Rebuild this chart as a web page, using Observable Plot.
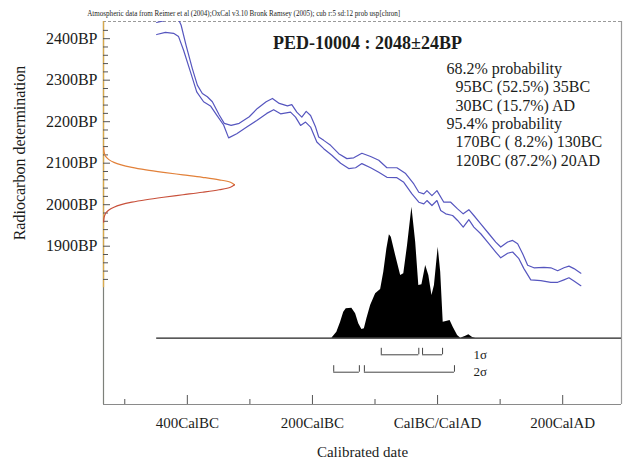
<!DOCTYPE html>
<html><head><meta charset="utf-8">
<script src="https://cdn.jsdelivr.net/npm/d3@7"></script>
<script src="https://cdn.jsdelivr.net/npm/@observablehq/plot@0.6"></script>
<style>html,body{margin:0;padding:0;background:#fff;} #chart svg{display:block} #chart svg text{font-family:'Liberation Serif','Times New Roman',serif;}</style>
</head><body><div id="chart"></div>
<script>
// ---------- text ----------
const headerText = "Atmospheric data from Reimer et al (2004);OxCal v3.10 Bronk Ramsey (2005); cub r:5 sd:12 prob usp[chron]";
const titleText = "PED-10004 : 2048±24BP";
const rangeLines = ["68.2% probability", "95BC (52.5%) 35BC", "30BC (15.7%) AD", "95.4% probability", "170BC ( 8.2%) 130BC", "120BC (87.2%) 20AD"];
const rangeIndent = [false, true, true, false, true, true];
const xTitle = "Calibrated date";
const yTitle = "Radiocarbon determination";
const sigmaLabels = ["1σ", "2σ"];

// ---------- axes ----------
const xDomain = [-534, 294];
const yDomain = [1518.6, 2441.4];
const xTickValues = [-400, -200, 0, 200];
const xTickLabels = ["400CalBC", "200CalBC", "CalBC/CalAD", "200CalAD"];
const xMinorTicks = [-500, -300, -100, 100];
const yTickValues = [2400, 2300, 2200, 2100, 2000, 1900];
const yTickLabels = ["2400BP", "2300BP", "2200BP", "2100BP", "2000BP", "1900BP"];
const yMinorTicks = [2420, 2380, 2360, 2340, 2320, 2280, 2260, 2240, 2220, 2180, 2160, 2140, 2120, 2080, 2060, 2040, 2020, 1980, 1960, 1940, 1920, 1880, 1860, 1840, 1820];

// ---------- radiocarbon measurement (2048±24BP), relative density ----------
const gaussBP = [1958, 1964, 1970, 1976, 1982, 1988, 1994, 2000, 2006, 2012, 2018, 2024, 2030, 2036, 2042, 2048, 2054, 2060, 2066, 2072, 2078, 2084, 2090, 2096, 2102, 2108, 2114, 2120, 2126, 2132, 2138];
const gaussDensity = [0.0009, 0.0022, 0.0051, 0.0111, 0.0228, 0.0439, 0.0796, 0.1353, 0.2163, 0.3247, 0.4578, 0.6065, 0.7548, 0.8825, 0.969, 1, 0.969, 0.8825, 0.7548, 0.6065, 0.4578, 0.3247, 0.2163, 0.1353, 0.0796, 0.0439, 0.0228, 0.0111, 0.0051, 0.0022, 0.0009];

// ---------- calibration curve (±1σ band edges) ----------
const calUpperYear = [-449, -435, -424, -414, -410, -402, -392, -384, -376, -368, -360, -349, -341, -330, -317, -301, -288, -274, -264, -253, -240, -233, -225, -217, -210, -203, -195, -190, -182, -171, -158, -145, -134, -121, -107, -94, -81, -65, -51, -38, -30, -22, -17, -9, -1, 10, 21, 32, 41, 50, 58, 69, 82, 93, 101, 112, 120, 128, 136, 144, 154, 170, 181, 192, 202, 210, 218, 229];
const calUpperBP = [2439, 2444, 2449, 2446, 2433, 2384, 2328, 2288, 2268, 2260, 2248, 2216, 2196, 2191, 2196, 2212, 2232, 2248, 2256, 2244, 2238, 2241, 2223, 2211, 2225, 2215, 2187, 2163, 2155, 2143, 2123, 2111, 2113, 2124, 2116, 2107, 2089, 2089, 2075, 2050, 2030, 2026, 2034, 2022, 2034, 2006, 2006, 1990, 1978, 1988, 1974, 1954, 1930, 1910, 1898, 1910, 1914, 1906, 1882, 1854, 1848, 1849, 1848, 1841, 1848, 1852, 1846, 1835];
const calLowerYear = [-449, -435, -422, -414, -406, -395, -385, -374, -363, -353, -342, -334, -321, -305, -289, -273, -262, -251, -235, -227, -219, -211, -203, -193, -182, -169, -155, -142, -131, -121, -107, -94, -81, -65, -54, -41, -30, -22, -17, -9, -1, 5, 13, 24, 32, 41, 50, 58, 69, 82, 93, 101, 112, 120, 130, 138, 149, 165, 181, 192, 202, 210, 218, 229];
const calLowerBP = [2410, 2415, 2413, 2405, 2372, 2320, 2272, 2248, 2238, 2216, 2192, 2161, 2171, 2187, 2203, 2220, 2229, 2219, 2223, 2211, 2191, 2199, 2187, 2151, 2135, 2119, 2100, 2087, 2089, 2099, 2089, 2078, 2066, 2065, 2054, 2026, 2006, 2002, 2010, 1998, 2010, 1986, 1978, 1974, 1962, 1946, 1964, 1946, 1930, 1906, 1886, 1872, 1883, 1886, 1870, 1846, 1819, 1817, 1813, 1813, 1819, 1824, 1816, 1805];

// ---------- calibrated (posterior) distribution, relative probability ----------
const postStart = -449;
const postYear = [-169, -161, -155, -150, -146, -137, -131, -126, -121, -117, -113, -107, -99, -91, -86, -81, -77, -74, -67, -59, -54, -48, -41, -35, -30, -25, -19, -14, -9, -5, 1, 5, 9, 14, 20, 25, 32, 37, 45, 50, 56, 61];
const postProb = [0, 0.046, 0.122, 0.198, 0.224, 0.229, 0.186, 0.110, 0.066, 0.072, 0.148, 0.250, 0.339, 0.372, 0.504, 0.682, 0.789, 0.771, 0.631, 0.479, 0.492, 0.708, 1.0, 0.733, 0.402, 0.408, 0.555, 0.479, 0.326, 0.402, 0.695, 0.504, 0.122, 0.127, 0.135, 0.084, 0.021, 0, 0.015, 0.026, 0.005, 0];

// ---------- ranges (brackets) ----------
const sigma1Ranges = [[-90, -30], [-24, 8]];
const sigma2Ranges = [[-166, -125], [-117, 27]];

// ---------- layout (pixels) ----------
const W = 629, H = 462, mL = 103, mR = 8, mT = 21, mB = 58;
const frameW = W - mL - mR, frameH = H - mT - mB;
const xs = d3.scaleLinear(xDomain, [mL, W - mR]);
const ys = d3.scaleLinear(yDomain, [H - mB, mT]);
const postBase = ys.invert(337.7);
const postScale = ys.invert(337.7 - 131) - postBase;
const gaussScale = xs.invert(mL + 131) - xDomain[0];
const row1 = ys.invert(354.3), row1Top = ys.invert(347.8);
const row2 = ys.invert(371.7), row2Top = ys.invert(365.2);

const font = "'Liberation Serif', 'Times New Roman', serif";
const ink = "#1b1d1b";
const blue = "#5656bf";

const gauss = gaussBP.map((b, i) => ({bp: b, d: gaussDensity[i]}));
const gaussUp = gauss.filter(g => g.bp >= 2048);
const gaussLo = gauss.filter(g => g.bp <= 2048);
const upper = calUpperYear.map((x, i) => ({x, y: calUpperBP[i]}));
const lower = calLowerYear.map((x, i) => ({x, y: calLowerBP[i]}));
const post = [{x: postStart, p: 0}, ...postYear.map((x, i) => ({x, p: postProb[i]}))];

function bracketMarks(ranges, row, top) {
  const ends = ranges.flatMap(r => r);
  return [
    Plot.ruleY(ranges, {y: () => row, x1: r => r[0], x2: r => r[1], stroke: "#444", strokeWidth: 1}),
    Plot.ruleX(ends, {x: d => d, y1: row, y2: top, stroke: "#444", strokeWidth: 1})
  ];
}

const textBase = {fontFamily: font, fill: ink, frameAnchor: "top-left", textAnchor: "start", lineAnchor: "middle"};

const plot = Plot.plot({
  width: W, height: H,
  marginLeft: mL, marginRight: mR, marginTop: mT, marginBottom: mB,
  x: {domain: xDomain, label: null},
  y: {domain: yDomain, label: null},
  style: {fontFamily: font, color: ink, background: "#fff"},
  marks: [
    // frame
    Plot.ruleY([yDomain[0]], {stroke: "#8a8a8a", strokeWidth: 1.2}),
    Plot.ruleY([yDomain[1]], {stroke: "#9a9a9a", strokeWidth: 1.2, strokeDasharray: "3,2"}),
    Plot.ruleX([xDomain[0]], {stroke: "#7d807a", strokeWidth: 1.2}),
    Plot.ruleX([xDomain[1]], {stroke: "#9a9a9a", strokeWidth: 1.2}),
    Plot.ruleX([xDomain[0]], {y1: 1800, y2: yDomain[1], stroke: "#d8a94c", strokeWidth: 1.3}),
    // ticks (inward)
    Plot.tickY(yTickValues, {y: d => d, insetRight: frameW - 7, stroke: "#555"}),
    Plot.tickY(yMinorTicks, {y: d => d, insetRight: frameW - 5, stroke: "#555"}),
    Plot.tickX(xTickValues, {x: d => d, insetTop: frameH - 9, stroke: "#555"}),
    Plot.tickX(xMinorTicks, {x: d => d, insetTop: frameH - 5, stroke: "#555"}),
    // tick labels
    Plot.axisY(yTickValues, {anchor: "left", tickSize: 0, tickPadding: 6, fontSize: 16, fontFamily: font, label: null,
      tickFormat: d => yTickLabels[yTickValues.indexOf(d)]}),
    Plot.axisX(xTickValues, {anchor: "bottom", tickSize: 0, tickPadding: 13, fontSize: 15, fontFamily: font, label: null,
      tickFormat: d => xTickLabels[xTickValues.indexOf(d)]}),
    // measurement gaussian
    Plot.line(gaussUp, {x: g => xDomain[0] + g.d * gaussScale, y: "bp", stroke: "#e2813a", strokeWidth: 1.2, curve: "catmull-rom"}),
    Plot.line(gaussLo, {x: g => xDomain[0] + g.d * gaussScale, y: "bp", stroke: "#c8503a", strokeWidth: 1.2, curve: "catmull-rom"}),
    // calibration curve
    Plot.line(upper, {x: "x", y: "y", stroke: blue, strokeWidth: 1.2, clip: true}),
    Plot.line(lower, {x: "x", y: "y", stroke: blue, strokeWidth: 1.2, clip: true}),
    // posterior
    Plot.areaY(post, {x: "x", y1: () => postBase, y2: d => postBase + d.p * postScale, fill: "#000", curve: "linear"}),
    Plot.ruleY([postBase], {x1: postStart, x2: xDomain[1], stroke: "#222", strokeWidth: 1.2}),
    // brackets
    ...bracketMarks(sigma1Ranges, row1, row1Top),
    ...bracketMarks(sigma2Ranges, row2, row2Top),
    Plot.text([sigmaLabels[0]], {...textBase, dx: 370, dy: 354.3 - mT, fontSize: 13}),
    Plot.text([sigmaLabels[1]], {...textBase, dx: 370, dy: 371.7 - mT, fontSize: 13}),
    // titles
    Plot.text([titleText], {...textBase, textAnchor: "middle", dx: 367 - mL, dy: 43 - mT, fontSize: 18, fontWeight: "bold"}),
    ...rangeLines.map((t, i) => Plot.text([t], {...textBase, dx: (rangeIndent[i] ? 455 : 446) - mL, dy: 68.3 + 18.33 * i - mT, fontSize: 16})),
    Plot.text([headerText], {...textBase, dx: 86.7 - mL, dy: 12.8 - mT, fontSize: 9}),
    Plot.text([yTitle], {...textBase, textAnchor: "middle", dx: 19.3 - mL, dy: 152.5 - mT, rotate: -90, fontSize: 16}),
    Plot.text([xTitle], {...textBase, frameAnchor: "bottom", textAnchor: "middle", dy: 452 - (H - mB), fontSize: 15})
  ]
});
document.getElementById("chart").appendChild(plot);
for (const t of plot.querySelectorAll("text")) {
  if (t.textContent === headerText) {
    t.setAttribute("textLength", "313");
    t.setAttribute("lengthAdjust", "spacingAndGlyphs");
  }
}
</script>
</body></html>
